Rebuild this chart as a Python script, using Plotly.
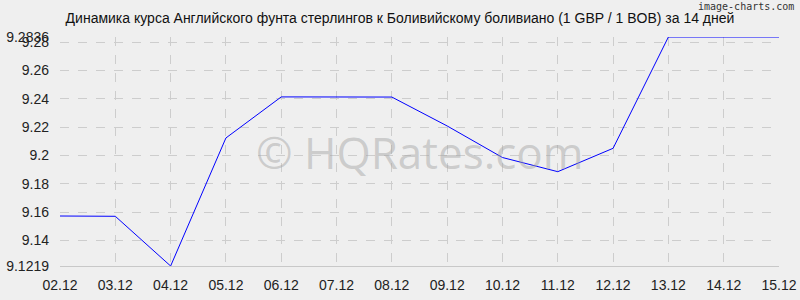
import plotly.graph_objects as go

dates = ["02.12", "03.12", "04.12", "05.12", "06.12", "07.12", "08.12",
         "09.12", "10.12", "11.12", "12.12", "13.12", "14.12", "15.12"]
rates = [9.1572, 9.1570, 9.1219, 9.2123, 9.2413, 9.2411, 9.2412,
         9.2208, 9.1985, 9.1885, 9.2050, 9.2836, 9.2836, 9.2836]
y_ticks = [9.1219, 9.14, 9.16, 9.18, 9.2, 9.22, 9.24, 9.26, 9.28, 9.2836]
y_labels = ["9.1219", "9.14", "9.16", "9.18", "9.2", "9.22", "9.24", "9.26", "9.28", "9.2836"]
title = "Динамика курса Английского фунта стерлингов к Боливийскому боливиано (1 GBP / 1 BOB) за 14 дней"

fig = go.Figure()
fig.add_trace(go.Scatter(x=list(range(len(dates))), y=rates, mode="lines",
                         line=dict(color="#0000ff", width=1), hoverinfo="skip"))

fig.update_layout(
    width=800, height=300,
    margin=dict(l=60, r=21, t=37, b=34, autoexpand=False),
    paper_bgcolor="#efefef", plot_bgcolor="#efefef",
    showlegend=False,
    font=dict(family="Liberation Sans, Arial, sans-serif", size=14, color="#222222"),
    title=dict(text=title, x=0.5, xanchor="center", y=0.94, yanchor="middle",
               font=dict(size=14, color="#111111")),
    xaxis=dict(range=[0, len(dates) - 1], tickmode="array", automargin=False,
               tickvals=list(range(len(dates))), ticktext=dates,
               showgrid=True, gridcolor="#cdcdcd", griddash="dash", gridwidth=1,
               zeroline=False, showline=True, linecolor="#c8c8c8", linewidth=1,
               ticks="", ticklabelstandoff=6),
    yaxis=dict(range=[y_ticks[0], y_ticks[-1]], tickmode="array", automargin=False,
               tickvals=y_ticks, ticktext=y_labels,
               showgrid=True, gridcolor="#cdcdcd", griddash="dash", gridwidth=1,
               zeroline=False, showline=False, ticks="", ticklabelstandoff=10),
    annotations=[
        dict(text="© HQRates.com", x=0.5, y=0.5, xref="paper", yref="paper",
             showarrow=False, font=dict(family="Open Sans, sans-serif", size=44,
                                         color="rgba(160,160,160,0.45)")),
        dict(text="image-charts.com", x=(796 - 60) / (800 - 60 - 21),
             y=(300 - 34 - 6) / (300 - 37 - 34), xref="paper", yref="paper",
             showarrow=False, xanchor="right", yanchor="middle",
             font=dict(family="DejaVu Sans Mono, monospace", size=10, color="#333333")),
    ],
)

fig.write_html("out.html")
